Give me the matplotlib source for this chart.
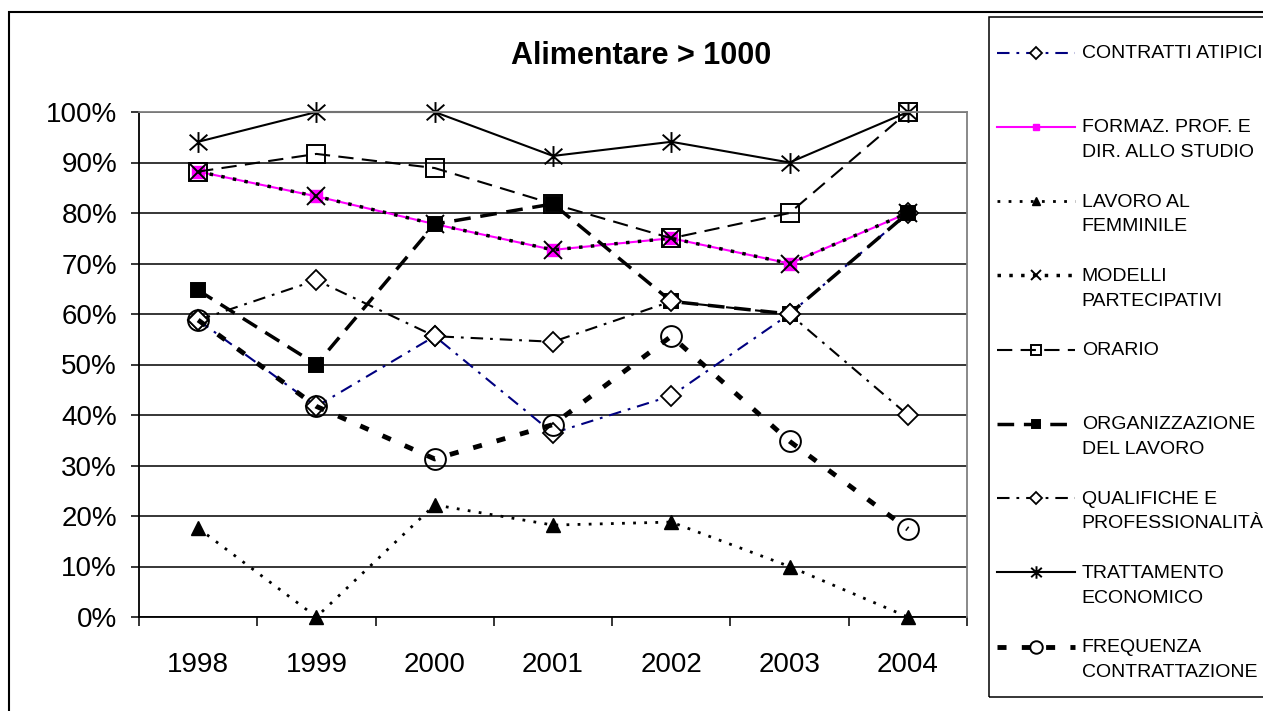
import numpy as np
import matplotlib
matplotlib.use('Agg')
import matplotlib.pyplot as plt
from matplotlib.path import Path
from matplotlib.patches import Rectangle
from matplotlib.legend_handler import HandlerLine2D

plt.rcParams['font.family'] = ['Liberation Sans', 'DejaVu Sans']
plt.rcParams['lines.scale_dashes'] = False

# Data (percentages)
years = ['1998', '1999', '2000', '2001', '2002', '2003', '2004']
contratti = [58.8, 41.7, 55.6, 36.4, 43.8, 60.0, 80.0]
formaz = [88.2, 83.3, 77.8, 72.7, 75.0, 70.0, 80.0]
lavoro = [17.6, 0.0, 22.2, 18.2, 18.8, 10.0, 0.0]
modelli = [88.2, 83.3, 77.8, 72.7, 75.0, 70.0, 80.0]
orario = [88.2, 91.7, 88.9, 81.8, 75.0, 80.0, 100.0]
organizz = [64.7, 50.0, 77.8, 81.8, 62.5, 60.0, 80.0]
qualifiche = [58.8, 66.7, 55.6, 54.5, 62.5, 60.0, 40.0]
trattamento = [94.1, 100.0, 100.0, 91.3, 94.1, 90.0, 100.0]
frequenza = [58.8, 41.7, 31.3, 38.1, 55.6, 34.8, 17.4]

# asterisk marker like excel's (vertical bar + X)
M, L = Path.MOVETO, Path.LINETO
asterisk = Path([(0, -1), (0, 1), (-0.85, -0.75), (0.85, 0.75), (-0.85, 0.75), (0.85, -0.75)],
                [M, L, M, L, M, L])

fig = plt.figure(figsize=(12.63, 7.11), dpi=100)
ax = fig.add_axes([139 / 1263, 94 / 711, 828 / 1263, 505 / 711])
x = np.arange(len(years))

ax.plot(x, contratti, color='#000080', lw=1.5, dashes=(9, 5, 2, 5),
        marker='D', ms=10, mfc='white', mec='black', mew=1.3, label='CONTRATTI ATIPICI')
ax.plot(x, formaz, color='#FF00FF', lw=1.5,
        marker='s', ms=8, mfc='#FF00FF', mec='#FF00FF', label='FORMAZ. PROF. E\nDIR. ALLO STUDIO')
ax.plot(x, lavoro, color='black', lw=2, dashes=(2, 6),
        marker='^', ms=10, mfc='black', mec='black', label='LAVORO AL\nFEMMINILE')
ax.plot(x, modelli, color='black', lw=2.5, dashes=(2.5, 6),
        marker='x', ms=13, mec='black', mew=1.4, label='MODELLI\nPARTECIPATIVI')
ax.plot(x, orario, color='black', lw=1.5, dashes=(11, 6),
        marker='s', ms=13, mfc='none', mec='black', mew=1.4, label='ORARIO')
ax.plot(x, organizz, color='black', lw=2.5, dashes=(12, 7),
        marker='s', ms=10, mfc='black', mec='black', mew=1.4, label='ORGANIZZAZIONE\nDEL LAVORO')
ax.plot(x, qualifiche, color='black', lw=1.5, dashes=(9, 5, 2, 5),
        marker='D', ms=10, mfc='white', mec='black', mew=1.3, label='QUALIFICHE E\nPROFESSIONALITÀ')
ax.plot(x, trattamento, color='black', lw=1.5,
        marker=asterisk, ms=15, mfc='none', mec='black', mew=1.4, label='TRATTAMENTO\nECONOMICO')
ax.plot(x, frequenza, color='black', lw=3.5, dashes=(6.5, 11),
        marker='o', ms=15, mfc='none', mec='black', mew=1.4, label='FREQUENZA\nCONTRATTAZIONE')
for ln in ax.get_lines():
    ln.set_clip_on(False)

ax.set_xlim(-0.5, len(years) - 0.5)
ax.set_ylim(0, 100)
ax.set_yticks(np.arange(0, 101, 10))
ax.set_yticklabels([f'{v}%' for v in range(0, 101, 10)])
ax.set_xticks(x)
ax.set_xticklabels(years)
ax.set_xticks(np.arange(-0.5, len(years), 1), minor=True)
ax.tick_params(axis='x', which='major', length=0, pad=25, labelsize=20)
ax.tick_params(axis='x', which='minor', length=6.5, width=1.1, direction='out')
ax.tick_params(axis='y', length=5.8, width=1.1, direction='out', pad=10, labelsize=20)
ax.yaxis.grid(True, color='black', lw=1.1)
ax.set_axisbelow(True)
for s in ['left', 'bottom']:
    ax.spines[s].set_color('black')
    ax.spines[s].set_linewidth(1.3)
for s in ['top', 'right']:
    ax.spines[s].set_color('#808080')
    ax.spines[s].set_linewidth(1.3)
    ax.spines[s].set_zorder(3)

fig.text(641 / 1263, 1 - 56 / 711, 'Alimentare > 1000', ha='center', va='center',
         fontsize=22, fontweight='bold')

# figure frame and legend frame
fig.patches.append(Rectangle((9 / 1263, -0.1), 1.2, 1.1 - 12 / 711, transform=fig.transFigure,
                             fill=False, edgecolor='black', lw=1.5))
fig.patches.append(Rectangle((989 / 1263, 1 - 697 / 711), 0.5, 680 / 711, transform=fig.transFigure,
                             fill=False, edgecolor='black', lw=1.1))


class UpHandler(HandlerLine2D):
    # put the legend sample next to the first line of a two-line label
    def create_artists(self, legend, orig_handle, xdescent, ydescent, width, height, fontsize, trans):
        shift = 0.67 * fontsize
        return super().create_artists(legend, orig_handle, xdescent, ydescent - 2 * shift,
                                      width, height, fontsize, trans)


handles, labels = ax.get_legend_handles_labels()
labels = [lb if '\n' in lb else lb + '\n ' for lb in labels]
leg = fig.legend(handles, labels, loc='upper left', bbox_to_anchor=(997 / 1263, 1 - 45 / 711),
                 fontsize=14, handlelength=4.0, handletextpad=0.36, borderpad=0,
                 borderaxespad=0, labelspacing=1.67, markerscale=0.6, frameon=False,
                 handler_map={h: UpHandler() for h in handles})
for t in leg.get_texts():
    t.set_linespacing(1.6)

fig.savefig('out.png', dpi=100)
